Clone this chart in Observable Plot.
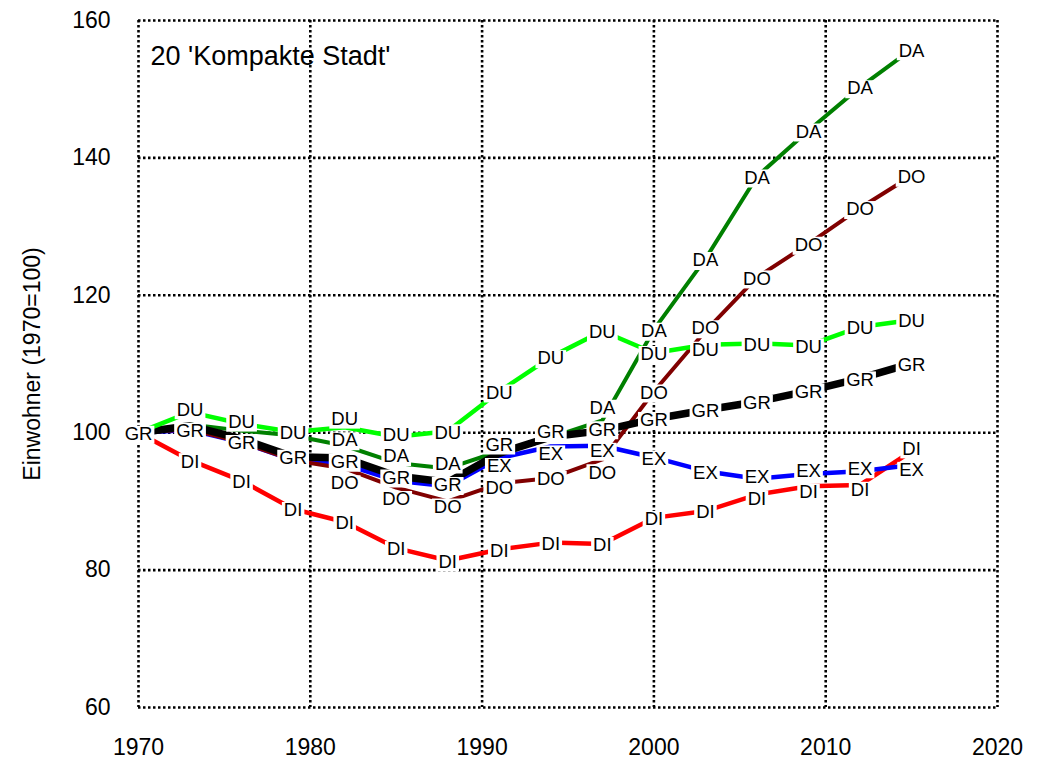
<!DOCTYPE html>
<html>
<head>
<meta charset="utf-8">
<script src="https://cdn.jsdelivr.net/npm/d3@7"></script>
<script src="https://cdn.jsdelivr.net/npm/@observablehq/plot@0.6"></script>
<style>
  html, body { margin: 0; padding: 0; background: #ffffff; }
  #chart { width: 1043px; height: 764px; }
</style>
</head>
<body>
<div id="chart"></div>
<script>
// ---- data ----
const years = [1970, 1973, 1976, 1979, 1982, 1985, 1988, 1991, 1994, 1997, 2000, 2003, 2006, 2009, 2012, 2015];
const du = [100, 103.0, 101.3, 100.1, 100.8, 99.4, 100.2, 106.0, 111.0, 114.8, 111.6, 112.8, 113.0, 112.7, 115.4, 116.4];
const da = [100, 101.2, 100.3, 99.6, 98.1, 95.6, 94.8, 97.3, 99.3, 101.8, 115.0, 125.3, 137.3, 144.0, 150.3, 155.8];
const dOrt = [100, 100.5, 98.6, 96.0, 94.8, 92.0, 90.0, 92.6, 93.4, 96.1, 106.0, 114.8, 122.6, 127.5, 132.7, 137.4];
const gr = [100, 101.0, 99.1, 96.5, 96.3, 93.7, 92.8, 97.0, 99.4, 100.3, 102.0, 103.3, 104.5, 106.1, 107.9, 110.1];
const ex = [100, 100.4, 98.6, 96.0, 95.4, 93.0, 92.2, 96.3, 98.0, 98.1, 96.4, 94.4, 93.3, 94.0, 94.4, 95.3];
const di = [100, 96.0, 93.0, 88.9, 87.0, 83.2, 81.4, 83.0, 84.0, 83.8, 87.6, 88.6, 91.0, 92.2, 92.4, 97.3];

// years at which each series carries a label in the reference
const grLabelYears = [1970, 1973, 1976, 1979, 1982, 1985, 1988, 1991, 1994, 1997, 2000, 2003, 2006, 2009, 2012, 2015];
const duLabelYears = [1973, 1976, 1979, 1982, 1985, 1988, 1991, 1994, 1997, 2000, 2003, 2006, 2009, 2012, 2015];
const diLabelYears = [1973, 1976, 1979, 1982, 1985, 1988, 1991, 1994, 1997, 2000, 2003, 2006, 2009, 2012, 2015];
const daLabelYears = [1982, 1985, 1988, 1997, 2000, 2003, 2006, 2009, 2012, 2015];
const doLabelYears = [1982, 1985, 1988, 1991, 1994, 1997, 2000, 2003, 2006, 2009, 2012, 2015];
const exLabelYears = [1991, 1994, 1997, 2000, 2003, 2006, 2009, 2012, 2015];

const xTicks = [1970, 1980, 1990, 2000, 2010, 2020];
const yTicks = [60, 80, 100, 120, 140, 160];
const titleText = "20 'Kompakte Stadt'";
const yLabelText = "Einwohner (1970=100)";

// ---- styles ----
const seriesDefs = [
  {name: "DI", values: di, labelYears: diLabelYears, color: "#ff0000", width: 4.5},
  {name: "EX", values: ex, labelYears: exLabelYears, color: "#0000ff", width: 4.5},
  {name: "DO", values: dOrt, labelYears: doLabelYears, color: "#800000", width: 4},
  {name: "DA", values: da, labelYears: daLabelYears, color: "#008000", width: 4},
  {name: "GR", values: gr, labelYears: grLabelYears, color: "#000000", width: 7.5},
  {name: "DU", values: du, labelYears: duLabelYears, color: "#00ff00", width: 4.5}
];

const labelFont = 18.5;
const charW = {D: 0.722, U: 0.722, A: 0.667, O: 0.778, G: 0.778, R: 0.722, E: 0.667, X: 0.667, I: 0.278};
function boxSymbol(name) {
  const w = labelFont * [...name].reduce((s, c) => s + (charW[c] || 0.6), 0) + 4;
  const h = 18;
  return {draw(ctx) { ctx.rect(-w / 2, -h / 2, w, h); }};
}

// ---- long table ----
const table = [];
for (const s of seriesDefs) {
  years.forEach((yr, i) => table.push({series: s.name, year: yr, value: s.values[i]}));
}

// ---- label placement: keep labels of one year from overlapping ----
const gapUnits = 21.5 * 100 / 687; // minimum spacing of labels, in y units
const labels = [];
for (const yr of years) {
  const items = [];
  for (const s of seriesDefs) {
    if (s.labelYears.includes(yr)) {
      const v = s.values[years.indexOf(yr)];
      items.push({series: s.name, year: yr, value: v, t: -v});
    }
  }
  items.sort((a, b) => a.t - b.t);
  const clusters = [];
  for (const it of items) {
    clusters.push({items: [it], sum: it.t});
    while (clusters.length > 1) {
      const c = clusters[clusters.length - 1], p = clusters[clusters.length - 2];
      const pStart = p.sum / p.items.length - (p.items.length - 1) * gapUnits / 2;
      const pEnd = pStart + (p.items.length - 1) * gapUnits;
      const cStart = c.sum / c.items.length - (c.items.length - 1) * gapUnits / 2;
      if (cStart - pEnd < gapUnits) {
        p.items.push(...c.items); p.sum += c.sum; clusters.pop();
      } else break;
    }
  }
  for (const c of clusters) {
    const start = c.sum / c.items.length - (c.items.length - 1) * gapUnits / 2;
    c.items.forEach((it, k) => { it.ly = -(start + k * gapUnits); labels.push(it); });
  }
}

const lineMarks = seriesDefs.map(s => Plot.line(table.filter(d => d.series === s.name), {
  x: "year", y: "value", stroke: s.color, strokeWidth: s.width,
  strokeLinecap: "butt", strokeLinejoin: "round"
}));

const chart = Plot.plot({
  width: 1043,
  height: 764,
  marginLeft: 138,
  marginRight: 46,
  marginTop: 20,
  marginBottom: 57,
  x: {domain: [1970, 2020]},
  y: {domain: [60, 160]},
  style: {fontFamily: "'Liberation Sans', Arial, sans-serif", fontSize: "23px", background: "#ffffff", color: "#000000"},
  marks: [
    Plot.ruleX(xTicks, {stroke: "#000", strokeWidth: 2.6, strokeDasharray: "2.5,2.5"}),
    Plot.ruleY(yTicks, {stroke: "#000", strokeWidth: 2.6, strokeDasharray: "2.5,2.5"}),
    ...lineMarks,
    Plot.dot(labels, {x: "year", y: "ly", dy: 2, r: 1, symbol: d => boxSymbol(d.series), fill: "#ffffff", stroke: "none"}),
    Plot.text(labels, {x: "year", y: "ly", dy: 2, text: "series", fontSize: labelFont, lineHeight: 0.9, fill: "#000"}),
    Plot.axisX({ticks: xTicks, tickSize: 0, tickPadding: 31, tickFormat: d => String(d), fontSize: 23, label: null}),
    Plot.axisY({ticks: yTicks, tickSize: 0, tickPadding: 28, tickFormat: d => String(d), fontSize: 23, label: null}),
    Plot.text([yLabelText], {frameAnchor: "left", textAnchor: "middle", dx: -106, rotate: -90, fontSize: 23, fill: "#000"}),
    Plot.text([titleText], {frameAnchor: "top-left", dx: 12, dy: 25, textAnchor: "start", fontSize: 27, fill: "#000"})
  ]
});
document.getElementById("chart").appendChild(chart);
</script>
</body>
</html>
